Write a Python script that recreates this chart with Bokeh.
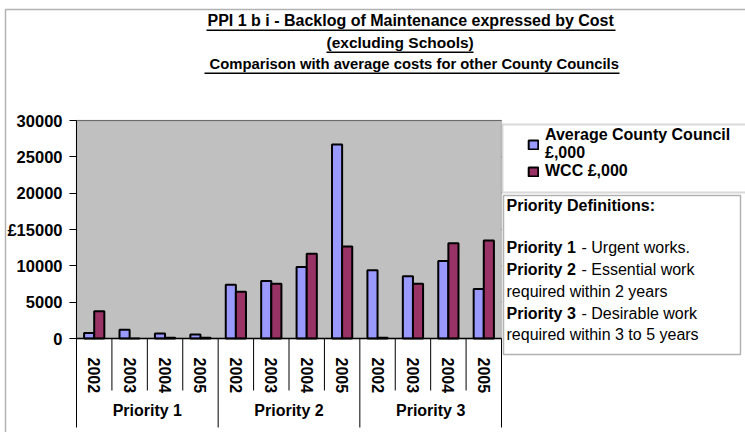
from bokeh.plotting import figure
from bokeh.models import (Range1d, LinearAxis, FixedTicker, BoxAnnotation, Label, Legend,
                          LegendItem, ColumnDataSource)
from bokeh.transform import dodge
from bokeh.embed import file_html
from bokeh.resources import INLINE

# ---------------- data ----------------
groups = ["Priority 1", "Priority 2", "Priority 3"]
years = ["2002", "2003", "2004", "2005"]
avg_county = [750, 1200, 700, 550, 7400, 7900, 9850, 26700, 9400, 8550, 10650, 6800]
wcc = [3750, 0, 100, 100, 6450, 7550, 11650, 12650, 100, 7550, 13100, 13500]
y_ticks = [0, 5000, 10000, 15000, 20000, 25000, 30000]
y_tick_labels = ["0", "5000", "10000", "£15000", "20000", "25000", "30000"]
series_names = ["Average County Council\n£,000", "WCC £,000"]

cat_group = [g for g in groups for _ in years]
cat_year = [y for _ in groups for y in years]
x_idx = list(range(len(cat_year)))
n_cat = len(x_idx)
group_centers = [sum(i for i in x_idx if cat_group[i] == g) / len(years) for g in groups]

# ---------------- layout (canvas px) ----------------
W, H = 745, 432
PL, PR, PT, P0 = 76, 501, 120, 338       # plot-area left/right/top, y of zero
Y_MAX = 30000
cat_w = (PR - PL) / n_cat
ppu = (P0 - PT) / Y_MAX                  # pixels per value unit
x_start = -0.5 - PL / cat_w
y_start = -(H - P0) / ppu

def px_y(cy):      # canvas y -> data y
    return (P0 - cy) / ppu

FONT = "Liberation Sans"
LABEL_DY = 7       # Label baseline correction (px)

p = figure(width=W, height=H, output_backend="svg", toolbar_location=None,
           x_range=Range1d(x_start, x_start + W / cat_w),
           y_range=Range1d(y_start, y_start + H / ppu),
           x_axis_location=None, y_axis_location=None,
           min_border_left=0, min_border_right=0, min_border_top=0, min_border_bottom=0)
p.grid.visible = False
p.outline_line_color = None
p.background_fill_color = "white"
p.border_fill_color = "white"

def sx(x):
    return x

def sy(y):
    return H - y

SCREEN = dict(left_units="screen", right_units="screen", top_units="screen", bottom_units="screen")

def text(x, base, t, size="16px", style="bold", align="left"):
    p.add_layout(Label(x=sx(x), y=sy(base - LABEL_DY), x_units="screen", y_units="screen",
                       text=t, text_align=align, text_baseline="alphabetic",
                       text_font=FONT, text_font_style=style, text_font_size=size,
                       text_color="black"))

# outer chart border
p.add_layout(BoxAnnotation(left=sx(5), right=sx(W + 20), top=sy(9), bottom=sy(H + 20),
                           fill_alpha=0, line_color="black", line_width=1.5, level="underlay",
                           **SCREEN))

# grey plot area
x_lo, x_hi = x_idx[0] - 0.5, x_idx[-1] + 0.5
p.add_layout(BoxAnnotation(left=x_lo, right=x_hi, bottom=0, top=Y_MAX, fill_color="#C0C0C0",
                           fill_alpha=1, line_color="#808080", line_width=1.5, level="underlay"))
# horizontal gridlines
p.segment(x0=[x_lo] * len(y_ticks), x1=[x_hi] * len(y_ticks), y0=y_ticks, y1=y_ticks,
          line_color="black", line_width=1, level="underlay")

# y axis
yaxis = LinearAxis(fixed_location=x_lo, ticker=FixedTicker(ticks=y_ticks), bounds=(0, Y_MAX),
                   major_label_overrides=dict(zip(y_ticks, y_tick_labels)),
                   axis_line_color="black", axis_line_width=1,
                   major_tick_line_color="black", major_tick_out=7, major_tick_in=0,
                   minor_tick_line_color=None, major_label_standoff=7,
                   major_label_text_font=FONT, major_label_text_font_style="bold",
                   major_label_text_font_size="16.5px", major_label_text_color="black")
p.add_layout(yaxis, "left")

# x axis: years (rotated), at y = 0
xaxis = LinearAxis(fixed_location=0, ticker=FixedTicker(ticks=x_idx), bounds=(x_lo, x_hi),
                   major_label_overrides=dict(zip(x_idx, cat_year)),
                   axis_line_color="black", axis_line_width=1.5,
                   major_tick_line_color=None, minor_tick_line_color=None,
                   major_label_orientation="vertical", major_label_standoff=13,
                   major_label_text_font=FONT, major_label_text_font_style="bold",
                   major_label_text_font_size="16px", major_label_text_color="black")
p.add_layout(xaxis, "below")

# x axis: group labels
gaxis = LinearAxis(fixed_location=px_y(392), ticker=FixedTicker(ticks=group_centers),
                   major_label_overrides=dict(zip(group_centers, groups)),
                   axis_line_color=None, major_tick_line_color=None, minor_tick_line_color=None,
                   major_label_standoff=3,
                   major_label_text_font=FONT, major_label_text_font_style="bold",
                   major_label_text_font_size="16px", major_label_text_color="black")
p.add_layout(gaxis, "below")

# category separators (Excel-style)
sep_x, sep_y = [], []
for i in x_idx:
    first = i == 0 or cat_group[i] != cat_group[i - 1]
    sep_x.append(i - 0.5)
    sep_y.append(px_y(427) if first else px_y(390))
sep_x.append(x_hi)
sep_y.append(px_y(427))
p.segment(x0=sep_x, y0=[0] * len(sep_x), x1=sep_x, y1=sep_y, line_color="black", line_width=1)

# bars
src = ColumnDataSource(dict(x=x_idx, avg=avg_county, wcc=wcc))
bw = 1 / 3.5
r1 = p.vbar(x=dodge("x", -bw / 2), top="avg", width=bw, source=src,
            fill_color="#9999FF", line_color="black", line_width=2)
r2 = p.vbar(x=dodge("x", bw / 2), top="wcc", width=bw, source=src,
            fill_color="#993366", line_color="black", line_width=2)

# title (underlined)
title_lines = ["PPI 1 b i - Backlog of Maintenance expressed by Cost",
               "(excluding Schools)",
               "Comparison with average costs for other County Councils"]
title_left = [207, 326, 209]
title_size = ["16px", "15.5px", "14.8px"]
title_base = [27, 49, 70]
underline = [(206, 615), (326, 473), (204, 619)]
for t, x, fs, b, (u0, u1) in zip(title_lines, title_left, title_size, title_base, underline):
    text(x, b, t, size=fs)
    p.add_layout(BoxAnnotation(left=sx(u0), right=sx(u1), top=sy(b + 2), bottom=sy(b + 3.5),
                               fill_color="black", fill_alpha=1, line_color=None, **SCREEN))

# legend: frame box + legend entries
p.add_layout(BoxAnnotation(left=sx(502), right=sx(W + 20), top=sy(124), bottom=sy(192),
                           fill_color="white", fill_alpha=1, line_color="#808080",
                           line_width=2, **SCREEN))
legend = Legend(items=[LegendItem(label=series_names[0], renderers=[r1]),
                       LegendItem(label=series_names[1], renderers=[r2])],
                location=(sx(527), sy(180)), orientation="vertical",
                label_text_font=FONT, label_text_font_style="bold",
                label_text_font_size="16px", label_text_color="black",
                label_text_line_height=1.1,
                glyph_width=12, glyph_height=11, label_standoff=6,
                padding=0, spacing=-4, margin=0,
                border_line_color=None, background_fill_alpha=0)
p.add_layout(legend, "center")

# priority definitions text box
p.add_layout(BoxAnnotation(left=sx(503), right=sx(740), top=sy(195), bottom=sy(354),
                           fill_color="white", fill_alpha=1, line_color="black", line_width=1.5,
                           **SCREEN))
box_lines = [("Priority Definitions:", "", 212),
             ("Priority 1", "- Urgent works.", 254),
             ("Priority 2", "- Essential work", 276),
             ("", "required within 2 years", 298),
             ("Priority 3", "- Desirable work", 320),
             ("", "required within 3 to 5 years", 341)]
for bold, reg, base in box_lines:
    if bold:
        text(506, base, bold)
    if reg:
        text(506 + (75 if bold else 0), base, reg, style="normal")

open("out.html", "w").write(file_html(p, INLINE))
